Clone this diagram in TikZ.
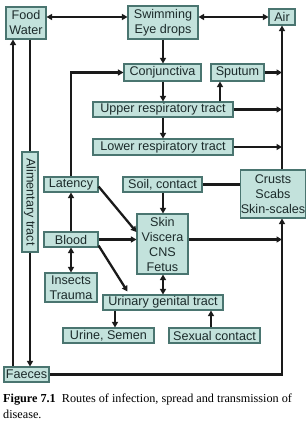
\documentclass[tikz,border=0pt]{standalone}
\usepackage{fontspec}
\setmainfont{Liberation Serif}
\newfontfamily\boxfont{Liberation Sans}
\usetikzlibrary{arrows.meta,calc}
\definecolor{boxfill}{HTML}{C3E2DC}
\definecolor{boxline}{HTML}{4A7570}
\definecolor{boxtext}{HTML}{1C2B2B}
\definecolor{linecol}{HTML}{1A1A1A}
\tikzset{
  box/.style={draw=boxline, fill=boxfill, line width=1.1pt, inner sep=0pt, align=center,
    text=boxtext, font=\boxfont\fontsize{12.6}{15}\selectfont},
  ln/.style={draw=linecol, line width=2.3pt},
  arr/.style={ln, -{Triangle[length=5.5pt,width=6pt]}},
  darr/.style={ln, {Triangle[length=5.5pt,width=6pt]}-{Triangle[length=5.5pt,width=6pt]}},
}
\begin{document}
\begin{tikzpicture}[x=1pt,y=-1pt]
\useasboundingbox (0,0) rectangle (305,435);
% boxes
\node[box, minimum width=40pt, minimum height=32pt] (food) at (26,23) {Food\\Water};
\node[box, minimum width=70pt, minimum height=33pt] (swim) at (163,22.5) {Swimming\\Eye drops};
\node[box, minimum width=26pt, minimum height=16pt] (air) at (282,17) {Air};
\node[box, minimum width=77pt, minimum height=17pt] (conj) at (162.5,72.5) {Conjunctiva};
\node[box, minimum width=53pt, minimum height=17pt] (sput) at (237.5,72.5) {Sputum};
\node[box, minimum width=140pt, minimum height=15pt] (upper) at (163,109.5) {Upper respiratory tract};
\node[box, minimum width=140pt, minimum height=16pt] (lower) at (163,147) {Lower respiratory tract};
\node[box, minimum width=54pt, minimum height=15pt] (lat) at (71,184.5) {Latency};
\node[box, minimum width=79pt, minimum height=15pt] (soil) at (162.5,184.5) {Soil, contact};
\node[box, minimum width=62pt, minimum height=48pt] (crusts) at (273,194) {Crusts\\Scabs\\Skin-scales};
\node[box, minimum width=16pt, minimum height=100pt] (alim) at (30,202) {\rotatebox{-90}{Alimentary tract}};
\node[box, minimum width=51pt, minimum height=60pt] (skin) at (162.5,244) {Skin\\Viscera\\CNS\\Fetus};
\node[box, minimum width=54pt, minimum height=15pt] (blood) at (71,239.5) {Blood};
\node[box, minimum width=52pt, minimum height=29pt] (ins) at (71,287.5) {Insects\\Trauma};
\node[box, minimum width=120pt, minimum height=15pt] (urin) at (163,302.5) {Urinary genital tract};
\node[box, minimum width=91pt, minimum height=15pt] (urine) at (108.5,335.5) {Urine, Semen};
\node[box, minimum width=91pt, minimum height=15pt] (sex) at (214.5,335.5) {Sexual contact};
\node[box, minimum width=45pt, minimum height=15pt] (faec) at (26.5,374.5) {Faeces};
% helper x positions
\coordinate (xs) at (220,0);
\coordinate (xl) at (13,0);
\coordinate (xu) at (115,0);
\coordinate (xx) at (211,0);
% connectors top
\draw[darr] (food.east |- air) -- (swim.west |- air);
\draw[darr] (swim.east |- air) -- (air.west);
\draw[arr] (swim.south) -- (swim.south |- conj.north);
\draw[arr] (swim.south |- conj.south) -- (swim.south |- upper.north);
\draw[arr] (swim.south |- upper.south) -- (swim.south |- lower.north);
\draw[arr] (xs |- upper.north) -- (xs |- sput.south);
\draw[arr] (air |- crusts.north) -- (air.south);
\draw[arr] (sput.east) -- (air |- sput.east);
\draw[arr] (upper.east) -- (air |- upper.east);
\draw[arr] (lower.east) -- (air |- lower.east);
% middle
\draw[arr] (lat.north) |- (conj.west);
\draw[ln] (soil.east) -- (crusts.west |- soil.east);
\draw[arr] (swim.south |- soil.south) -- (swim.south |- skin.north);
\draw[arr] ($(lat.east)+(0,2)$) -- ($(skin.west)+(0,-12)$);
\draw[arr] (blood.east) -- (skin.west |- blood.east);
\draw[arr] (skin.east |- blood.east) -- (air |- blood.east);
\draw[arr] (blood.north) -- (lat.south);
\draw[darr] (blood.south) -- (ins.north);
\draw[arr] ($(blood.south east)+(0,-2)$) -- ($(urin.north west)+(25,-3)$);
\draw[darr] (swim.south |- skin.south) -- (swim.south |- urin.north);
\draw[arr] (xu |- urin.south) -- (xu |- urine.north);
\draw[arr] (xx |- sex.north) -- (xx |- urin.south);
% left and bottom
\draw[ln] (food.south -| alim.north) -- (alim.north);
\draw[arr] (alim.south) -- (alim.south |- faec.north);
\draw[arr] (xl |- faec.north) -- (xl |- food.south);
\draw[arr] (faec.east) -| (air |- crusts.south);
% caption
\node[anchor=north west, inner sep=0pt, align=left, font=\fontsize{12.2}{16}\selectfont] (cap) at (3,394)
  {\textbf{Figure 7.1}\hspace{0.5em}Routes of infection, spread and transmission of\\disease.};
\end{tikzpicture}
\end{document}
